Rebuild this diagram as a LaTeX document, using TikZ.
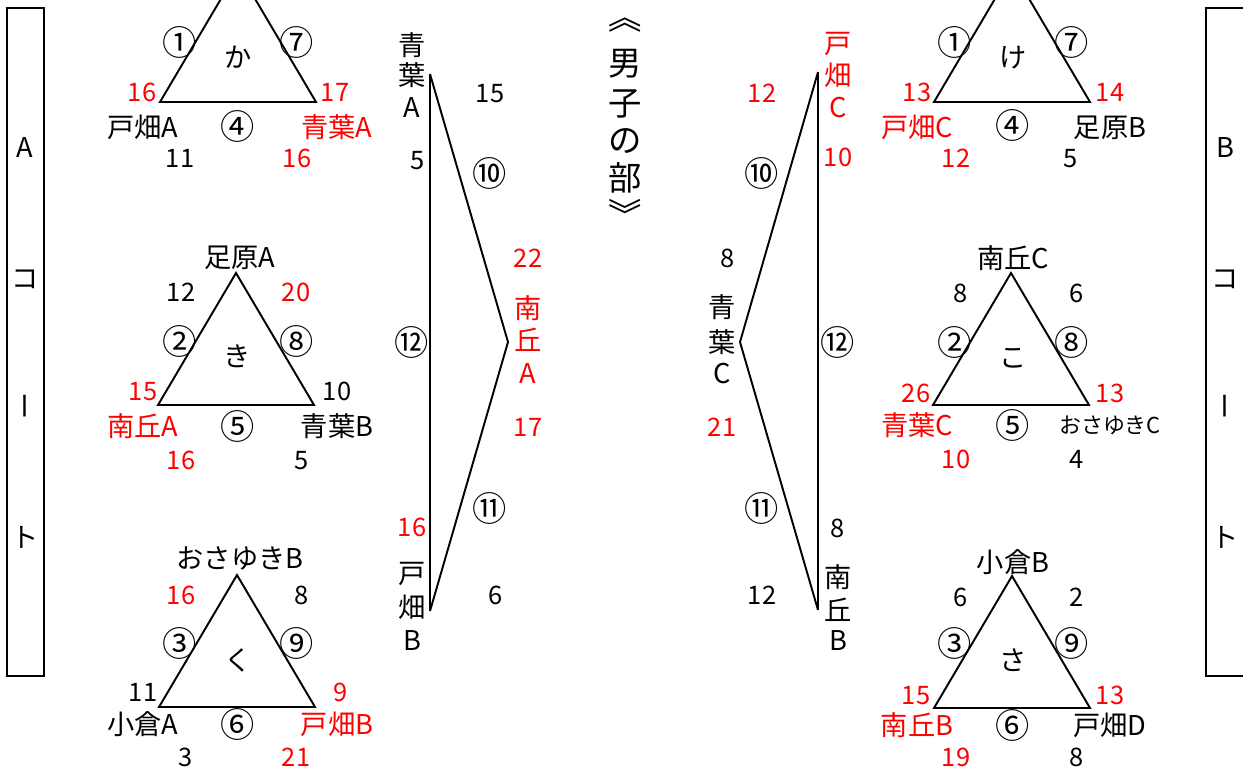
\documentclass[tikz,border=0pt]{standalone}
\usepackage{fontspec}
\setmainfont{Noto Sans CJK JP}
\usetikzlibrary{positioning}
\newcommand\jf{\fontsize{14.5}{18.7}\selectfont}
\newcommand\nf{\fontsize{15.5}{19}\selectfont}

\begin{document}
\begin{tikzpicture}[x=0.02cm,y=-0.02cm,
  wire/.style={line width=1.1pt},
  lbl/.style={inner sep=0pt,font=\jf,text height=12.8pt,text depth=1.7pt},
  win/.style={lbl,red},
  nm/.style={inner sep=0pt,font=\nf,text height=13.6pt,text depth=1.9pt},
  nmwin/.style={nm,red},
  circ/.style={inner sep=0pt,font=\fontsize{19.5}{22}\selectfont,text height=17.2pt,text depth=2.3pt},
  small/.style={inner sep=0pt,font=\fontsize{12.5}{15}\selectfont,text height=11pt,text depth=1.5pt},
  ttl/.style={inner sep=0pt,font=\fontsize{19}{22}\selectfont,text height=16.7pt,text depth=2.3pt}]
  \useasboundingbox (0,0) rectangle (1243,769);
  \clip (0,0) rectangle (1243,769);

  % courts
  \draw[wire] (7,8) rectangle (44,676);
  \draw[wire] (1206,8) rectangle (1270,676);
  \foreach \c/\x in {A/25,B/1225}{
    \node[nm] (court\c-1) at (\x,147) {\c};
    \node[nm] (court\c-2) at (\x,278) {コ};
    \node[nm,rotate=-90] (court\c-3) at (\x,406) {ー};
    \node[nm] (court\c-4) at (\x,537) {ト};
  }

  % title
  \foreach \ch/\yy [count=\k] in {︽/17,男/63,子/103,の/140,部/178,︾/215}
    \node[ttl] (ttl-\k) at (625,\yy) {\ch};

  % triangles
  \foreach \n/\x/\y in {ka/238/-30,ki/236/273,ku/237/575,ke/1012/-30,ko/1011/273,sa/1012/576}{
    \coordinate (\n-t) at (\x,\y);
    \coordinate (\n-l) at (\x-78,\y+132);
    \coordinate (\n-r) at (\x+78,\y+132);
    \draw[wire] (\n-t) -- (\n-l) -- (\n-r) -- cycle;
  }

  % ka
  \node[nm] (ka-c) at (238,57) {か};
  \node[circ] (ka-1) at (180,42) {①};
  \node[circ] (ka-7) at (297,42) {⑦};
  \node[circ] (ka-4) at (238,126) {④};
  \node[win] (ka-ls) at (142,92) {16};
  \node[win] (ka-rs) at (335,92) {17};
  \node[nm] (ka-ln) at (143,127) {戸畑A};
  \node[nmwin] (ka-rn) at (337,127) {青葉A};
  \node[lbl] (ka-lb) at (180,158) {11};
  \node[win] (ka-rb) at (297,158) {16};

  % ki
  \node[nm] (ki-top) at (240,257) {足原A};
  \node[lbl] (ki-tl) at (181,292) {12};
  \node[win] (ki-tr) at (296,292) {20};
  \node[circ] (ki-2) at (180,341) {②};
  \node[circ] (ki-8) at (297,341) {⑧};
  \node[nm] (ki-c) at (237,356) {き};
  \node[win] (ki-ls) at (143,391) {15};
  \node[lbl] (ki-rs) at (337,391) {10};
  \node[nmwin] (ki-ln) at (143,426) {南丘A};
  \node[circ] (ki-5) at (238,426) {⑤};
  \node[nm] (ki-rn) at (337,426) {青葉B};
  \node[win] (ki-lb) at (181,460) {16};
  \node[lbl] (ki-rb) at (302,460) {5};

  % ku
  \node[nm] (ku-top) at (240,558) {おさゆきB};
  \node[win] (ku-tl) at (181,595) {16};
  \node[lbl] (ku-tr) at (302,595) {8};
  \node[circ] (ku-3) at (180,643) {③};
  \node[circ] (ku-9) at (297,643) {⑨};
  \node[nm] (ku-c) at (238,660) {く};
  \node[lbl] (ku-ls) at (143,692) {11};
  \node[win] (ku-rs) at (341,692) {9};
  \node[nm] (ku-ln) at (143,724) {小倉A};
  \node[circ] (ku-6) at (238,724) {⑥};
  \node[nmwin] (ku-rn) at (337,724) {戸畑B};
  \node[lbl] (ku-lb) at (186,757) {3};
  \node[win] (ku-rb) at (296,757) {21};

  % ke
  \node[nm] (ke-c) at (1013,57) {け};
  \node[circ] (ke-1) at (955,42) {①};
  \node[circ] (ke-7) at (1072,42) {⑦};
  \node[circ] (ke-4) at (1013,125) {④};
  \node[win] (ke-ls) at (917,92) {13};
  \node[win] (ke-rs) at (1110,92) {14};
  \node[nmwin] (ke-ln) at (917,127) {戸畑C};
  \node[nm] (ke-rn) at (1110,127) {足原B};
  \node[win] (ke-lb) at (956,158) {12};
  \node[lbl] (ke-rb) at (1071,158) {5};

  % ko
  \node[nm] (ko-top) at (1013,258) {南丘C};
  \node[lbl] (ko-tl) at (961,293) {8};
  \node[lbl] (ko-tr) at (1077,293) {6};
  \node[circ] (ko-2) at (955,342) {②};
  \node[circ] (ko-8) at (1072,342) {⑧};
  \node[nm] (ko-c) at (1013,357) {こ};
  \node[win] (ko-ls) at (916,393) {26};
  \node[win] (ko-rs) at (1110,393) {13};
  \node[nmwin] (ko-ln) at (917,425) {青葉C};
  \node[circ] (ko-5) at (1013,425) {⑤};
  \node[small] (ko-rn) at (1110,425) {おさゆきC};
  \node[win] (ko-lb) at (956,459) {10};
  \node[lbl] (ko-rb) at (1077,459) {4};

  % sa
  \node[nm] (sa-top) at (1013,562) {小倉B};
  \node[lbl] (sa-tl) at (961,597) {6};
  \node[lbl] (sa-tr) at (1077,597) {2};
  \node[circ] (sa-3) at (955,643) {③};
  \node[circ] (sa-9) at (1072,643) {⑨};
  \node[nm] (sa-c) at (1013,660) {さ};
  \node[win] (sa-ls) at (916,695) {15};
  \node[win] (sa-rs) at (1110,695) {13};
  \node[nmwin] (sa-ln) at (917,725) {南丘B};
  \node[circ] (sa-6) at (1013,725) {⑥};
  \node[nm] (sa-rn) at (1110,725) {戸畑D};
  \node[win] (sa-lb) at (956,757) {19};
  \node[lbl] (sa-rb) at (1077,757) {8};

  % left final
  \coordinate (ml-top) at (430,74);
  \coordinate (ml-tip) at (508,342);
  \coordinate (ml-bot) at (430,611);
  \draw[wire] (ml-top) -- (ml-bot);
  \draw[wire] (ml-top) -- (ml-tip) -- (ml-bot);
  \foreach \ch/\yy [count=\k] in {青/45,葉/75,A/107}
    \node[nm] (ml-tn-\k) at (412,\yy) {\ch};
  \node[lbl] (ml-ts1) at (490,93) {15};
  \node[lbl] (ml-ts2) at (418,160) {5};
  \node[circ] (ml-10) at (490,173) {⑩};
  \node[win] (ml-ps1) at (528,258) {22};
  \foreach \ch/\yy [count=\k] in {南/308,丘/340,A/373}
    \node[nmwin] (ml-pn-\k) at (528,\yy) {\ch};
  \node[circ] (ml-12) at (412,342) {⑫};
  \node[win] (ml-ps2) at (528,427) {17};
  \node[circ] (ml-11) at (490,508) {⑪};
  \node[win] (ml-bs1) at (412,527) {16};
  \foreach \ch/\yy [count=\k] in {戸/573,畑/607,B/640}
    \node[nm] (ml-bn-\k) at (412,\yy) {\ch};
  \node[lbl] (ml-bs2) at (496,595) {6};

  % right final
  \coordinate (mr-top) at (818,72);
  \coordinate (mr-tip) at (740,342);
  \coordinate (mr-bot) at (818,610);
  \draw[wire] (mr-top) -- (mr-bot);
  \draw[wire] (mr-top) -- (mr-tip) -- (mr-bot);
  \foreach \ch/\yy [count=\k] in {戸/43,畑/75,C/107}
    \node[nmwin] (mr-tn-\k) at (838,\yy) {\ch};
  \node[win] (mr-ts1) at (762,93) {12};
  \node[win] (mr-ts2) at (838,157) {10};
  \node[circ] (mr-10) at (762,173) {⑩};
  \node[lbl] (mr-ps1) at (728,258) {8};
  \foreach \ch/\yy [count=\k] in {青/307,葉/342,C/373}
    \node[nm] (mr-pn-\k) at (722,\yy) {\ch};
  \node[circ] (mr-12) at (838,342) {⑫};
  \node[win] (mr-ps2) at (722,427) {21};
  \node[circ] (mr-11) at (762,508) {⑪};
  \node[lbl] (mr-bs1) at (838,528) {8};
  \foreach \ch/\yy [count=\k] in {南/577,丘/610,B/640}
    \node[nm] (mr-bn-\k) at (838,\yy) {\ch};
  \node[lbl] (mr-bs2) at (762,595) {12};
\end{tikzpicture}
\end{document}
